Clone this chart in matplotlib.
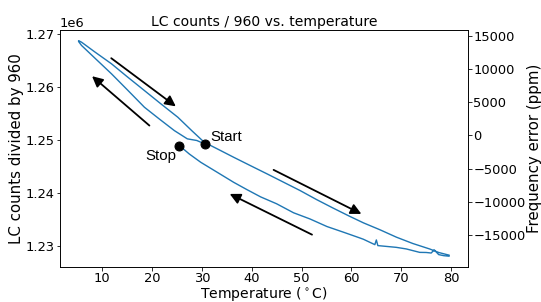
import numpy as np
import matplotlib
matplotlib.use("Agg")
import matplotlib.pyplot as plt
from matplotlib.ticker import MultipleLocator

# first cool-down, from the start point to the coldest reading
cool1_temp = [30.6, 29.0, 27.1, 24.5, 21.5, 18.5, 15.2, 11.9, 8.8, 5.9, 5.3]
cool1_counts = [1.24920e6, 1.24985e6, 1.25016e6, 1.25172e6, 1.25390e6, 1.25613e6,
                1.25930e6, 1.26244e6, 1.26520e6, 1.26779e6, 1.26854e6]

# heating up to the hottest reading
heat_temp = [5.3, 5.9, 8.5, 11.9, 15.0, 18.5, 21.8, 25.2, 28.0, 30.5, 33.5, 36.4,
             39.8, 43.1, 46.4, 49.7, 53.0, 56.3, 59.5, 62.4, 65.7, 69.0, 72.3,
             75.7, 77.5, 79.3, 79.6]
heat_counts = [1.26870e6, 1.26841e6, 1.26661e6, 1.26433e6, 1.26193e6, 1.25928e6,
               1.25677e6, 1.25424e6, 1.25170e6, 1.24951e6, 1.24808e6, 1.24668e6,
               1.24508e6, 1.24354e6, 1.24197e6, 1.24040e6, 1.23870e6, 1.23710e6,
               1.23560e6, 1.23430e6, 1.23300e6, 1.23160e6, 1.23040e6, 1.22936e6,
               1.22870e6, 1.22826e6, 1.22820e6]

# second cool-down, ending at the stop point
cool2_temp = [79.6, 78.5, 77.5, 76.6, 76.0, 75.0, 73.7, 71.0, 69.0, 65.3, 65.0,
              64.7, 62.4, 61.7, 58.5, 55.1, 51.7, 48.4, 45.0, 41.8, 39.0, 36.4,
              33.0, 29.8, 27.5, 25.5]
cool2_counts = [1.22800e6, 1.22810e6, 1.22830e6, 1.22920e6, 1.22860e6, 1.22870e6,
                1.22872e6, 1.22937e6, 1.22967e6, 1.23000e6, 1.23107e6, 1.23018e6,
                1.23120e6, 1.23144e6, 1.23250e6, 1.23360e6, 1.23503e6, 1.23620e6,
                1.23790e6, 1.23920e6, 1.24060e6, 1.24195e6, 1.24390e6, 1.24573e6,
                1.24730e6, 1.24889e6]

start_point = (30.6, 1.24926e6)
stop_point = (25.5, 1.24889e6)

# direction arrows: (tail, head)
arrows = [((11.85, 1.26539e6), (24.8, 1.25629e6)),
          ((19.5, 1.25267e6), (8.0, 1.26199e6)),
          ((44.4, 1.24430e6), (62.0, 1.23598e6)),
          ((52.1, 1.23207e6), (35.6, 1.23976e6))]

ref_counts = 1.2508e6  # counts at 0 ppm

temp = cool1_temp + heat_temp + cool2_temp
counts = cool1_counts + heat_counts + cool2_counts

plt.rcParams['font.size'] = 13
plt.rcParams['axes.labelsize'] = 15
plt.rcParams['axes.titlesize'] = 14
plt.rcParams['axes.labelpad'] = 1.5
plt.rcParams['xtick.major.pad'] = 2
plt.rcParams['ytick.major.pad'] = 2

fig = plt.figure(figsize=(541 / 72, 302 / 72), dpi=72)
ax = fig.add_axes([0.111, 0.116, 0.7535, 0.785])

ax.plot(temp, counts, color='#1f77b4', lw=1.4)
ax.plot(*start_point, 'o', color='k', ms=9)
ax.plot(*stop_point, 'o', color='k', ms=9)
ax.text(start_point[0] + 1.2, start_point[1] + 1300, 'Start', family='Liberation Sans',
        fontsize=15, ha='left', va='center')
ax.text(stop_point[0] - 0.5, stop_point[1] - 1900, 'Stop', family='Liberation Sans',
        fontsize=15, ha='right', va='center')

for tail, head in arrows:
    ax.annotate('', xy=head, xytext=tail,
                arrowprops=dict(arrowstyle='-|>', color='k', lw=1.8,
                                mutation_scale=22, shrinkA=0, shrinkB=0))

ax.yaxis.set_major_locator(MultipleLocator(0.01e6))
ax.set_xlabel(r'Temperature ($^\circ$C)', fontsize=14, labelpad=0)
ax.set_ylabel('LC counts divided by 960')
ax.set_title('LC counts / 960 vs. temperature', pad=4)

ax2 = ax.twinx()
lo, hi = ax.get_ylim()
ax2.set_ylim((lo / ref_counts - 1) * 1e6, (hi / ref_counts - 1) * 1e6)
ax2.set_ylabel('Frequency error (ppm)')

fig.savefig('out.png', dpi=72)
